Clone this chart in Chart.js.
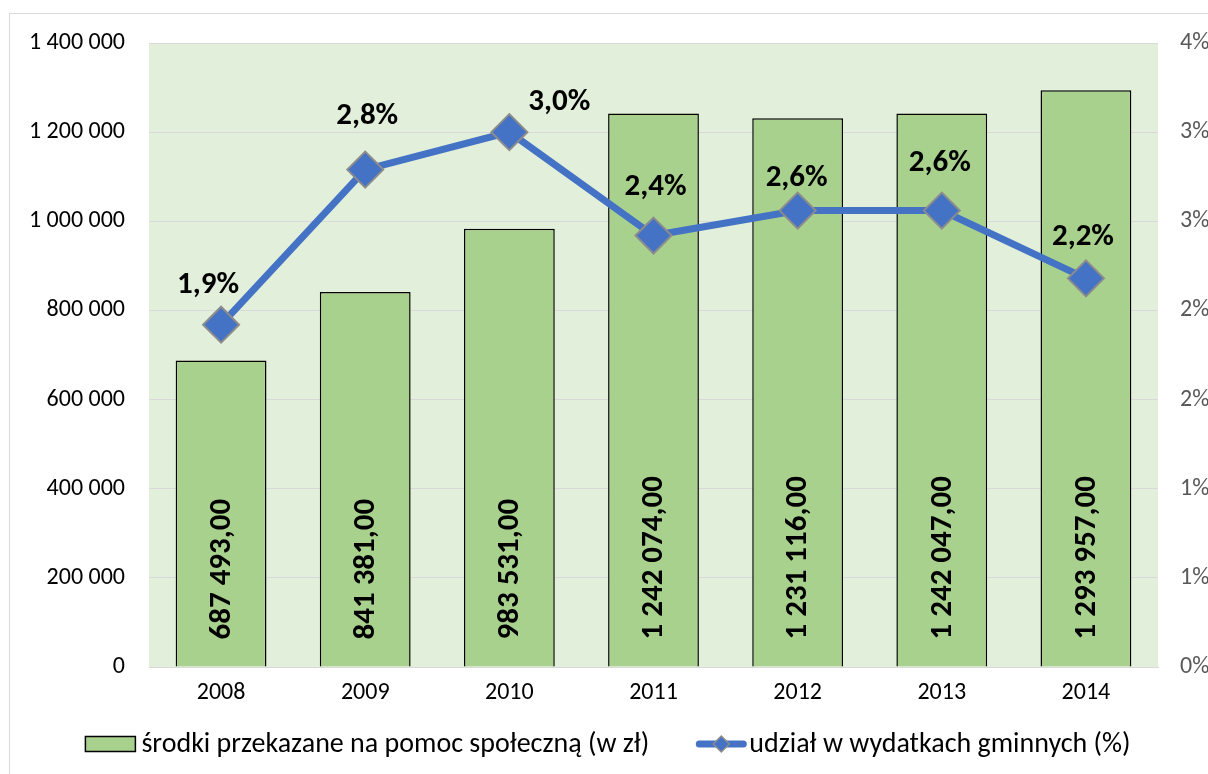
<!DOCTYPE html>
<html>
<head>
<meta charset="utf-8">
<script src="https://cdn.jsdelivr.net/npm/chart.js@4.4.1/dist/chart.umd.min.js"></script>
<style>
    html, body { margin: 0; padding: 0; background: #fff; }
    #wrap { width: 1208px; height: 774px; }
</style>
</head>
<body>
<div id="wrap"><canvas id="chart" width="1208" height="774"></canvas></div>
<script>
const years = ['2008', '2009', '2010', '2011', '2012', '2013', '2014'];
const funds = [687493, 841381, 983531, 1242074, 1231116, 1242047, 1293957];
const shares = [1.92, 2.79, 3.0, 2.42, 2.56, 2.56, 2.18];

const fundsLabel = 'środki przekazane na pomoc społeczną (w zł)';
const sharesLabel = 'udział w wydatkach gminnych (%)';

const FONT = 'Carlito, Lato, "Open Sans", sans-serif';
const GREEN = '#A9D18E';
const BLUE = '#4472C4';

function spaced(n) {
    return String(Math.round(n)).replace(/\B(?=(\d{3})+(?!\d))/g, ' ');
}

const frame = {
    id: 'frame',
    beforeDraw(chart) {
        const { ctx, chartArea: a } = chart;
        ctx.save();
        ctx.fillStyle = '#fff';
        ctx.fillRect(0, 0, chart.width, chart.height);
        ctx.strokeStyle = '#d9d9d9';
        ctx.lineWidth = 1;
        ctx.strokeRect(9.5, 13.5, chart.width + 20, chart.height + 20);
        ctx.fillStyle = '#E2EFDA';
        ctx.fillRect(a.left, a.top, a.right - a.left, a.bottom - a.top);
        ctx.restore();
    }
};

const valueLabels = {
    id: 'valueLabels',
    afterDatasetsDraw(chart, args, opts) {
        const ctx = chart.ctx;
        ctx.save();
        ctx.fillStyle = '#000';
        ctx.font = 'bold 31px ' + FONT;

        // bar values, rotated, from the base upwards
        chart.getDatasetMeta(1).data.forEach((bar, i) => {
            ctx.save();
            ctx.translate(bar.x, bar.base - 27);
            ctx.rotate(-Math.PI / 2);
            ctx.textAlign = 'left';
            ctx.textBaseline = 'middle';
            ctx.fillText(spaced(funds[i]) + ',00', 0, 1);
            ctx.restore();
        });

        // percentages above the points
        ctx.textAlign = 'center';
        ctx.textBaseline = 'middle';
        chart.getDatasetMeta(0).data.forEach((pt, i) => {
            const off = opts.offsets[i] || [0, -40];
            ctx.fillText(shares[i].toFixed(1).replace('.', ',') + '%', pt.x + off[0], pt.y + off[1]);
        });
        ctx.restore();
    }
};

const bottomLegend = {
    id: 'bottomLegend',
    afterDraw(chart) {
        const ctx = chart.ctx;
        const y = 744;
        ctx.save();
        ctx.font = '28px ' + FONT;
        ctx.textBaseline = 'middle';
        ctx.textAlign = 'left';
        const w1 = ctx.measureText(fundsLabel).width;
        const w2 = ctx.measureText(sharesLabel).width;
        const total = 50 + 6 + w1 + 47 + 50 + 3 + w2;
        let x = (chart.width - total) / 2 + 4;

        ctx.fillStyle = GREEN;
        ctx.fillRect(x, y - 7.5, 50, 15);
        ctx.strokeStyle = '#000';
        ctx.lineWidth = 1.5;
        ctx.strokeRect(x, y - 7.5, 50, 15);
        x += 56;
        ctx.fillStyle = '#000';
        ctx.fillText(fundsLabel, x, y + 1);
        x += w1 + 47;

        ctx.strokeStyle = BLUE;
        ctx.lineWidth = 7;
        ctx.lineCap = 'round';
        ctx.beginPath();
        ctx.moveTo(x + 3, y);
        ctx.lineTo(x + 47, y);
        ctx.stroke();
        ctx.beginPath();
        ctx.moveTo(x + 25, y - 8);
        ctx.lineTo(x + 33, y);
        ctx.lineTo(x + 25, y + 8);
        ctx.lineTo(x + 17, y);
        ctx.closePath();
        ctx.fillStyle = BLUE;
        ctx.fill();
        ctx.strokeStyle = '#8c8c8c';
        ctx.lineWidth = 1.5;
        ctx.stroke();
        x += 53;
        ctx.fillStyle = '#000';
        ctx.fillText(sharesLabel, x, y + 1);
        ctx.restore();
    }
};

new Chart(document.getElementById('chart'), {
    data: {
        labels: years,
        datasets: [
            {
                type: 'line',
                label: sharesLabel,
                data: shares,
                yAxisID: 'y1',
                order: 0,
                borderColor: BLUE,
                borderWidth: 7,
                pointStyle: 'rectRot',
                pointRadius: 18,
                pointHoverRadius: 18,
                pointBackgroundColor: BLUE,
                pointBorderColor: '#8c8c8c',
                pointBorderWidth: 2,
                tension: 0
            },
            {
                type: 'bar',
                label: fundsLabel,
                data: funds,
                yAxisID: 'y',
                order: 1,
                backgroundColor: GREEN,
                borderColor: '#000',
                borderWidth: 1.5,
                borderSkipped: 'bottom',
                categoryPercentage: 1,
                barPercentage: 0.63
            }
        ]
    },
    options: {
        responsive: false,
        animation: false,
        layout: { padding: { top: 43, left: 0, right: 0, bottom: 62 } },
        plugins: {
            legend: { display: false },
            tooltip: { enabled: false },
            valueLabels: {
                offsets: [[-13, -39], [2, -53], [50, -30], [2, -48], [-1, -32], [-2, -47], [-3, -41]]
            }
        },
        scales: {
            x: {
                grid: { display: false, drawTicks: false },
                border: { display: true, color: '#d9d9d9', width: 1 },
                ticks: { color: '#000', font: { family: FONT, size: 24 }, padding: 12 },
                afterFit(scale) { scale.height = 45; }
            },
            y: {
                position: 'left',
                min: 0,
                max: 1400000,
                ticks: {
                    stepSize: 200000,
                    color: '#000',
                    font: { family: FONT, size: 24 },
                    padding: 24,
                    callback: v => spaced(v)
                },
                grid: { color: '#d9d9d9', lineWidth: 1, drawTicks: false },
                border: { display: false },
                afterFit(scale) { scale.width = 149; }
            },
            y1: {
                position: 'right',
                min: 0,
                max: 3.5,
                ticks: {
                    stepSize: 0.5,
                    color: '#595959',
                    font: { family: FONT, size: 24 },
                    padding: 22,
                    callback: v => Math.round(v) + '%'
                },
                grid: { display: false, drawTicks: false },
                border: { display: false },
                afterFit(scale) { scale.width = 50; }
            }
        }
    },
    plugins: [frame, valueLabels, bottomLegend]
});
</script>
</body>
</html>
